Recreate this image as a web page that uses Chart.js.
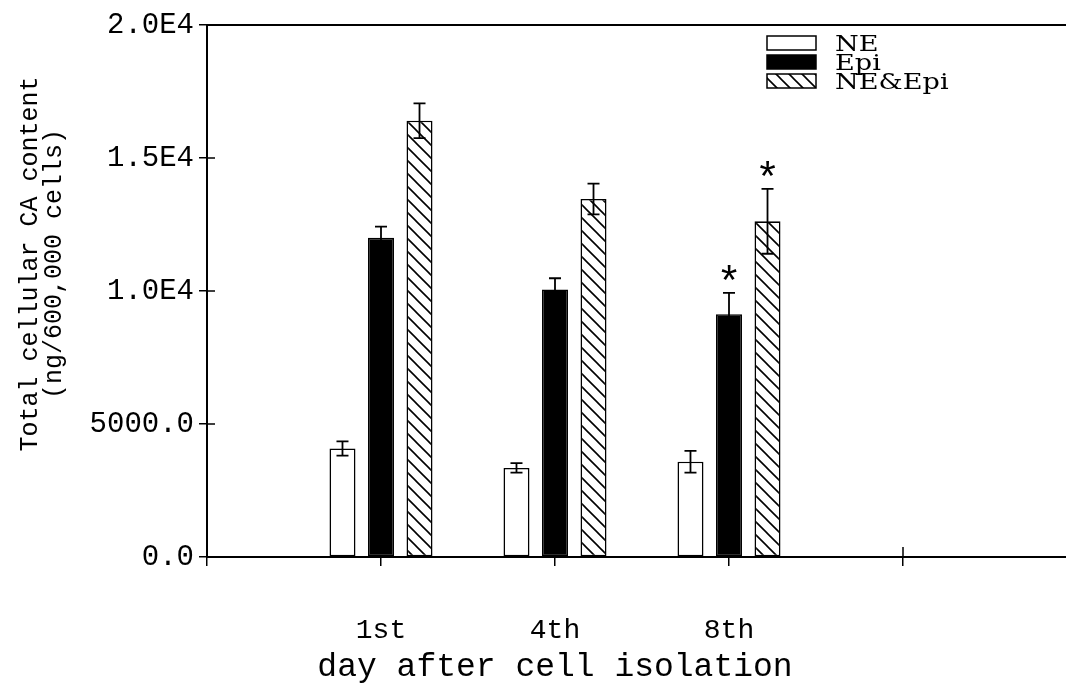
<!DOCTYPE html>
<html>
<head>
<meta charset="utf-8">
<script src="https://cdn.jsdelivr.net/npm/chart.js@4/dist/chart.umd.min.js"></script>
<style>
  html, body { margin: 0; padding: 0; background: #fff; overflow: hidden; }
  #wrap { width: 1066px; height: 687px; position: relative; }
</style>
</head>
<body>
<div id="wrap"><canvas id="c"></canvas></div>
<script>
// Days after isolation (grouped categories)
const days = ['1st', '4th', '8th'];
const seriesNames = ['NE', 'Epi', 'NE&Epi'];

// Mean total cellular CA content (ng / 600,000 cells) and error (±)
const neMean  = [4080, 3350, 3580];
const neErr   = [270, 180, 410];
const epiMean = [12000, 10060, 9130];
const epiErr  = [420, 420, 800];
const mixMean = [16400, 13460, 12620];
const mixErr  = [650, 580, 1220];

// Significance marks per series, per day
const neMarks  = ['', '', ''];
const epiMarks = ['', '', '*'];
const mixMarks = ['', '', '*'];

// Y axis ticks and their printed labels
const yTicks = [0, 5000, 10000, 15000, 20000];
const yTickLabels = ['0.0', '5000.0', '1.0E4', '1.5E4', '2.0E4'];

const yTitleLines = ['Total cellular CA content', '(ng/600,000 cells)'];
const xTitle = 'day after cell isolation';

const FONT = 'Liberation Mono';
const LEGEND_FONT = 'DejaVu Serif';
const INK = '#000';

// Category axis: an empty slot at each end frames the three groups
const xLabels = ['', ...days, ''];
const pad = arr => [null, ...arr, null];

function hatchPattern() {
  const s = 13;
  const c = document.createElement('canvas');
  c.width = s; c.height = s;
  const g = c.getContext('2d');
  g.fillStyle = '#fff';
  g.fillRect(0, 0, s, s);
  g.strokeStyle = '#000';
  g.lineWidth = 1.6;
  g.beginPath();
  g.moveTo(-1, -1); g.lineTo(s + 1, s + 1);
  g.moveTo(s - 2, -2); g.lineTo(s + 2, 2);
  g.moveTo(-2, s - 2); g.lineTo(2, s + 2);
  g.stroke();
  return g.createPattern(c, 'repeat');
}

const datasets = [
  { label: seriesNames[0], data: pad(neMean),  errors: pad(neErr),  marks: pad(neMarks),  backgroundColor: '#fff' },
  { label: seriesNames[1], data: pad(epiMean), errors: pad(epiErr), marks: pad(epiMarks), backgroundColor: '#000' },
  { label: seriesNames[2], data: pad(mixMean), errors: pad(mixErr), marks: pad(mixMarks), backgroundColor: hatchPattern() }
].map(d => Object.assign(d, {
  borderColor: INK,
  borderWidth: 1.6,
  borderSkipped: false,
  categoryPercentage: 0.664,
  barPercentage: 0.675
}));

// Error bars and significance stars
const errorBars = {
  id: 'errorBars',
  afterDatasetsDraw(chart) {
    const { ctx } = chart;
    const y = chart.scales.y;
    chart.data.datasets.forEach((ds, i) => {
      const meta = chart.getDatasetMeta(i);
      meta.data.forEach((bar, j) => {
        const v = ds.data[j], e = ds.errors[j];
        if (v == null || e == null) return;
        const top = y.getPixelForValue(v + e);
        const bot = y.getPixelForValue(v - e);
        const cap = 6;
        ctx.save();
        ctx.strokeStyle = INK;
        ctx.lineWidth = 1.8;
        ctx.beginPath();
        ctx.moveTo(bar.x, top); ctx.lineTo(bar.x, bot);
        ctx.moveTo(bar.x - cap, top); ctx.lineTo(bar.x + cap, top);
        ctx.moveTo(bar.x - cap, bot); ctx.lineTo(bar.x + cap, bot);
        ctx.stroke();
        const m = ds.marks[j];
        if (m) {
          ctx.fillStyle = INK;
          ctx.font = '42px "' + FONT + '"';
          ctx.textAlign = 'center';
          ctx.textBaseline = 'alphabetic';
          ctx.fillText(m, bar.x, top + 3);
        }
        ctx.restore();
      });
    });
  }
};

// Frame pieces, inner tick halves, legend and the y title
const decorations = {
  id: 'decorations',
  afterDraw(chart) {
    const { ctx, chartArea: a } = chart;
    const y = chart.scales.y;
    const x = chart.scales.x;
    ctx.save();
    ctx.strokeStyle = INK;
    ctx.lineWidth = 2;
    ctx.beginPath();
    // top frame line and axis extension to the page edge
    ctx.moveTo(a.left, a.top); ctx.lineTo(chart.width, a.top);
    ctx.moveTo(a.right, a.bottom); ctx.lineTo(chart.width, a.bottom);
    ctx.stroke();
    ctx.lineWidth = 1.5;
    ctx.beginPath();
    // y ticks cross the axis
    yTicks.forEach(t => {
      const py = y.getPixelForValue(t);
      ctx.moveTo(a.left, py); ctx.lineTo(a.left + 8, py);
    });
    // last x tick crosses the axis too
    const lastX = x.getPixelForValue(xLabels.length - 1);
    ctx.moveTo(lastX, a.bottom); ctx.lineTo(lastX, a.bottom - 10);
    ctx.stroke();

    // legend: swatch + label per series
    const rows = [43, 62, 81];
    chart.data.datasets.forEach((ds, i) => {
      const cy = rows[i];
      ctx.fillStyle = ds.backgroundColor;
      ctx.fillRect(767, cy - 7, 49, 14);
      ctx.lineWidth = 1.5;
      ctx.strokeRect(767, cy - 7, 49, 14);
      ctx.save();
      ctx.translate(835, cy + 8);
      ctx.scale(1.18, 1);
      ctx.font = '23px "' + LEGEND_FONT + '"';
      ctx.textAlign = 'left';
      ctx.textBaseline = 'alphabetic';
      ctx.fillStyle = INK;
      ctx.fillText(ds.label, 0, 0);
      ctx.restore();
    });

    // y axis title, two rotated lines
    ctx.font = '25px "' + FONT + '"';
    ctx.textAlign = 'center';
    ctx.textBaseline = 'middle';
    ctx.fillStyle = INK;
    yTitleLines.forEach((line, i) => {
      ctx.save();
      ctx.translate(30 + i * 24, 264);
      ctx.rotate(-Math.PI / 2);
      ctx.fillText(line, 0, 0);
      ctx.restore();
    });
    ctx.restore();
  }
};

new Chart(document.getElementById('c'), {
  type: 'bar',
  data: { labels: xLabels, datasets },
  options: {
    responsive: true,
    maintainAspectRatio: false,
    animation: false,
    layout: { padding: { top: 25, left: 0, right: 163, bottom: 0 } },
    plugins: { legend: { display: false }, tooltip: { enabled: false } },
    scales: {
      x: {
        type: 'category',
        offset: false,
        grid: { offset: false, drawOnChartArea: false, drawTicks: true, tickLength: 9, color: INK, lineWidth: 1.5 },
        border: { display: true, color: INK, width: 2 },
        ticks: { color: INK, font: { family: FONT, size: 28 }, padding: 48, maxRotation: 0, autoSkip: false },
        title: { display: true, text: xTitle, color: INK, font: { family: FONT, size: 33 }, padding: { top: 0, bottom: 0 } },
        afterFit(s) { s.height = 130; s.paddingLeft = 0; s.paddingRight = 0; }
      },
      y: {
        min: 0,
        max: 20000,
        afterBuildTicks(s) { s.ticks = yTicks.map(v => ({ value: v })); },
        grid: { drawOnChartArea: false, drawTicks: true, tickLength: 8, color: INK, lineWidth: 1.5 },
        border: { display: true, color: INK, width: 2 },
        ticks: {
          color: INK,
          font: { family: FONT, size: 29 },
          padding: 5,
          callback: v => yTickLabels[yTicks.indexOf(v)]
        },
        afterFit(s) { s.width = 207; s.paddingTop = 0; s.paddingBottom = 0; }
      }
    }
  },
  plugins: [errorBars, decorations]
});
</script>
</body>
</html>
